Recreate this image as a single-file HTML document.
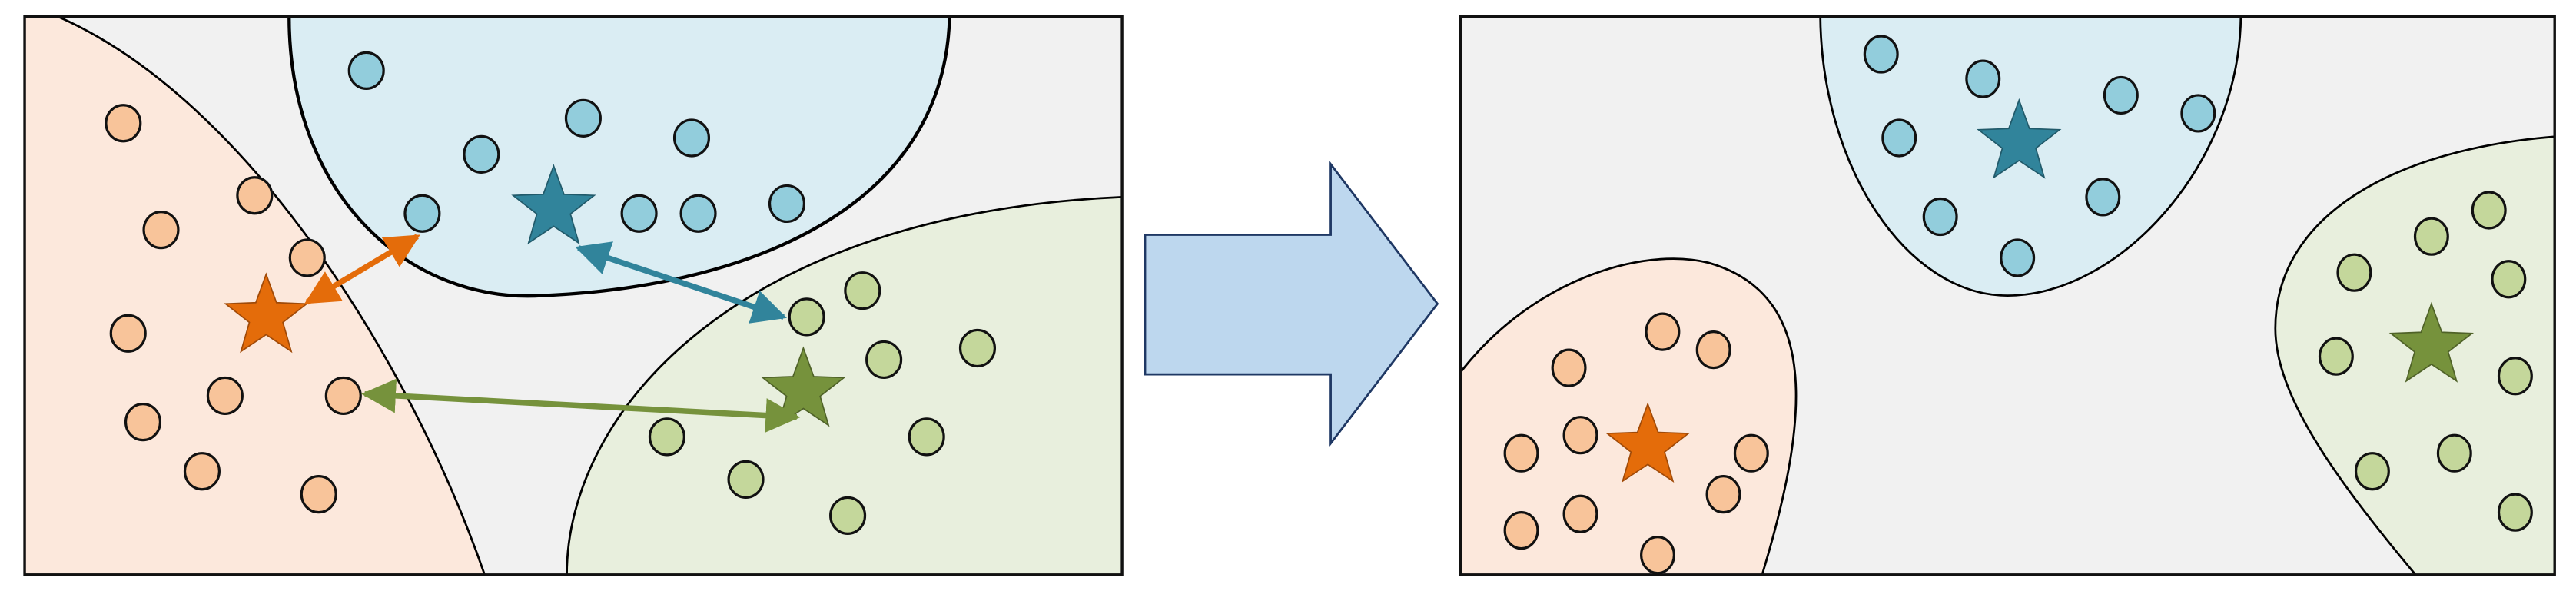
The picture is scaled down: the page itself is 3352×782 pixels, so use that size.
<!DOCTYPE html>
<html><head><meta charset="utf-8"><style>html,body{margin:0;padding:0;background:#fff}svg{display:block}</style></head>
<body>
<svg width="3352" height="782" viewBox="0 0 1568 366" preserveAspectRatio="none" xmlns="http://www.w3.org/2000/svg">
<defs>
<polygon id="st" points="0,-26 6.3,-8.7 24.7,-8 10.2,3.3 15.3,21 0,10.8 -15.3,21 -10.2,3.3 -24.7,-8 -6.3,-8.7"/>
<marker id="mo" viewBox="0 0 10 10" refX="9" refY="5" markerWidth="6" markerHeight="6" orient="auto-start-reverse"><path d="M0,0 L10,5 L0,10 Z" fill="#e46c0a"/></marker>
<marker id="mb" viewBox="0 0 10 10" refX="9" refY="5" markerWidth="6" markerHeight="6" orient="auto-start-reverse"><path d="M0,0 L10,5 L0,10 Z" fill="#31849b"/></marker>
<marker id="mg" viewBox="0 0 10 10" refX="9" refY="5" markerWidth="6" markerHeight="6" orient="auto-start-reverse"><path d="M0,0 L10,5 L0,10 Z" fill="#76923c"/></marker>
<clipPath id="cl"><rect x="15" y="10" width="668" height="340"/></clipPath>
<clipPath id="cr"><rect x="889" y="10" width="666" height="340"/></clipPath>
</defs>
<rect x="15" y="10" width="668" height="340" fill="#f1f1f1"/>
<g clip-path="url(#cl)" stroke="#000" stroke-width="1.3">
<path d="M15,10 L35,10 C150,60 250,220 295,350 L15,350 Z" fill="#fce8dc"/>
<path d="M176,10 C176,120 250,185 330,180 C450,175 575,130 578,10 Z" fill="#daedf3" stroke-width="2"/>
<path d="M345,350 C345,250 450,130 683,120 L683,360 L345,360 Z" fill="#e8efdd"/>
</g>
<rect x="15" y="10" width="668" height="340" fill="none" stroke="#111" stroke-width="1.6"/>
<g stroke="#111" stroke-width="1.5" fill="#f8c49a">
<ellipse cx="75" cy="75" rx="10.5" ry="11"/><ellipse cx="98" cy="140" rx="10.5" ry="11"/><ellipse cx="155" cy="119" rx="10.5" ry="11"/><ellipse cx="187" cy="157" rx="10.5" ry="11"/><ellipse cx="78" cy="203" rx="10.5" ry="11"/><ellipse cx="137" cy="241" rx="10.5" ry="11"/><ellipse cx="87" cy="257" rx="10.5" ry="11"/><ellipse cx="209" cy="241" rx="10.5" ry="11"/><ellipse cx="123" cy="287" rx="10.5" ry="11"/><ellipse cx="194" cy="301" rx="10.5" ry="11"/>
</g>
<g stroke="#111" stroke-width="1.5" fill="#92cddc">
<ellipse cx="223" cy="43" rx="10.5" ry="11"/><ellipse cx="293" cy="94" rx="10.5" ry="11"/><ellipse cx="355" cy="72" rx="10.5" ry="11"/><ellipse cx="421" cy="84" rx="10.5" ry="11"/><ellipse cx="257" cy="130" rx="10.5" ry="11"/><ellipse cx="389" cy="130" rx="10.5" ry="11"/><ellipse cx="425" cy="130" rx="10.5" ry="11"/><ellipse cx="479" cy="124" rx="10.5" ry="11"/>
</g>
<g stroke="#111" stroke-width="1.5" fill="#c4d79b">
<ellipse cx="525" cy="177" rx="10.5" ry="11"/><ellipse cx="491" cy="193" rx="10.5" ry="11"/><ellipse cx="538" cy="219" rx="10.5" ry="11"/><ellipse cx="595" cy="212" rx="10.5" ry="11"/><ellipse cx="406" cy="266" rx="10.5" ry="11"/><ellipse cx="564" cy="266" rx="10.5" ry="11"/><ellipse cx="454" cy="292" rx="10.5" ry="11"/><ellipse cx="516" cy="314" rx="10.5" ry="11"/>
</g>
<use href="#st" x="162" y="193" fill="#e46c0a" stroke="#a04a08" stroke-width="0.8"/>
<use href="#st" x="337" y="127" fill="#31849b" stroke="#215a6a" stroke-width="0.8"/>
<use href="#st" x="489" y="238" fill="#76923c" stroke="#4f6228" stroke-width="0.8"/>
<line x1="187" y1="184" x2="254" y2="144" stroke="#e46c0a" stroke-width="3.5" marker-start="url(#mo)" marker-end="url(#mo)"/>
<line x1="352" y1="151" x2="477" y2="193" stroke="#31849b" stroke-width="3.5" marker-start="url(#mb)" marker-end="url(#mb)"/>
<line x1="222" y1="240" x2="485" y2="254" stroke="#76923c" stroke-width="3.5" marker-start="url(#mg)" marker-end="url(#mg)"/>
<path d="M697,143 L810,143 L810,100 L875,185 L810,270 L810,228 L697,228 Z" fill="#bdd7ee" stroke="#1f3864" stroke-width="1.3"/>
<rect x="889" y="10" width="666" height="340" fill="#f1f1f1"/>
<g clip-path="url(#cr)" stroke="#000" stroke-width="1.3">
<path d="M1108,8 C1108,100 1160,180 1222,180 C1290,180 1364,100 1364,8 Z" fill="#daedf3"/>
<path d="M885,232 C930,170 1000,150 1040,160 C1110,180 1100,260 1072,352 L885,352 Z" fill="#fce8dc"/>
<path d="M1472,352 C1420,290 1385,240 1385,200 C1385,130 1460,90 1558,83 L1558,352 Z" fill="#e8efdd"/>
</g>
<rect x="889" y="10" width="666" height="340" fill="none" stroke="#111" stroke-width="1.6"/>
<g stroke="#111" stroke-width="1.5" fill="#92cddc">
<ellipse cx="1145" cy="33" rx="10" ry="11"/><ellipse cx="1207" cy="48" rx="10" ry="11"/><ellipse cx="1291" cy="58" rx="10" ry="11"/><ellipse cx="1338" cy="69" rx="10" ry="11"/><ellipse cx="1156" cy="84" rx="10" ry="11"/><ellipse cx="1280" cy="120" rx="10" ry="11"/><ellipse cx="1181" cy="132" rx="10" ry="11"/><ellipse cx="1228" cy="157" rx="10" ry="11"/>
</g>
<g stroke="#111" stroke-width="1.5" fill="#f8c49a">
<ellipse cx="1012" cy="202" rx="10" ry="11"/><ellipse cx="1043" cy="213" rx="10" ry="11"/><ellipse cx="955" cy="224" rx="10" ry="11"/><ellipse cx="962" cy="265" rx="10" ry="11"/><ellipse cx="926" cy="276" rx="10" ry="11"/><ellipse cx="1066" cy="276" rx="10" ry="11"/><ellipse cx="1049" cy="301" rx="10" ry="11"/><ellipse cx="962" cy="313" rx="10" ry="11"/><ellipse cx="926" cy="323" rx="10" ry="11"/><ellipse cx="1009" cy="338" rx="10" ry="11"/>
</g>
<g stroke="#111" stroke-width="1.5" fill="#c4d79b">
<ellipse cx="1515" cy="128" rx="10" ry="11"/><ellipse cx="1480" cy="144" rx="10" ry="11"/><ellipse cx="1433" cy="166" rx="10" ry="11"/><ellipse cx="1527" cy="170" rx="10" ry="11"/><ellipse cx="1422" cy="217" rx="10" ry="11"/><ellipse cx="1531" cy="229" rx="10" ry="11"/><ellipse cx="1494" cy="276" rx="10" ry="11"/><ellipse cx="1444" cy="287" rx="10" ry="11"/><ellipse cx="1531" cy="312" rx="10" ry="11"/>
</g>
<use href="#st" x="1229" y="87" fill="#31849b" stroke="#215a6a" stroke-width="0.8"/>
<use href="#st" x="1003" y="272" fill="#e46c0a" stroke="#a04a08" stroke-width="0.8"/>
<use href="#st" x="1480" y="211" fill="#76923c" stroke="#4f6228" stroke-width="0.8"/>
</svg>
</body></html>
